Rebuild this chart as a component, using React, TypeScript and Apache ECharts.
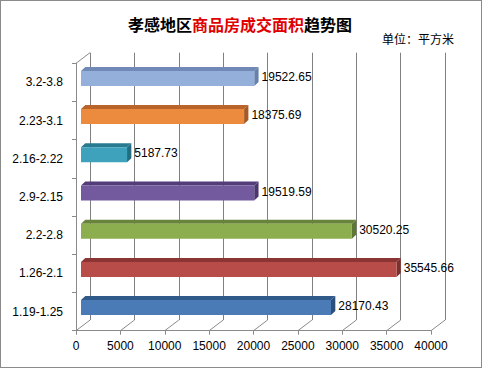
import React, { useEffect, useRef } from "react";
import * as echarts from "echarts";

const categories = ["1.19-1.25", "1.26-2.1", "2.2-2.8", "2.9-2.15", "2.16-2.22", "2.23-3.1", "3.2-3.8"];
const values = [28170.43, 35545.66, 30520.25, 19519.59, 5187.73, 18375.69, 19522.65];
const labels = ["28170.43", "35545.66", "30520.25", "19519.59", "5187.73", "18375.69", "19522.65"];
const xTicks = [0, 5000, 10000, 15000, 20000, 25000, 30000, 35000, 40000];
// front, top, side colours for each bar
const barColors = [
  ["#4a7bb7", "#2f5a8a", "#2b4f7a"],
  ["#b84c49", "#8a3533", "#7c2f2d"],
  ["#8cae4e", "#68843a", "#5e7834"],
  ["#735a9e", "#523d7a", "#4a376e"],
  ["#3fa2bc", "#277a8f", "#236d80"],
  ["#ec8a3e", "#b8642a", "#a55a26"],
  ["#93afda", "#7189b6", "#6680aa"],
];

const DX = 14, DY = -10.6; // wall depth
const BX = 5, BY = -4; // bar front offset
const BDX = 4.3, BDY = -4; // bar depth
const BH = 15; // bar height
const GRID = "#8a8a8a";
const WALL = "#808080";
const FONT = "'Liberation Sans', Arial, sans-serif";
const CJK = "'Noto Sans CJK SC', sans-serif";

export default function App() {
  const ref = useRef<HTMLDivElement>(null);
  useEffect(() => {
    if (!ref.current) return;
    const chart = echarts.init(ref.current, null, { renderer: "svg" });
    chart.setOption({
      animation: false,
      backgroundColor: "#ffffff",
      title: [
        {
          text: "{a|孝感地区}{b|商品房成交面积}{a|趋势图}",
          left: 128,
          top: 16,
          padding: 0,
          textStyle: {
            rich: {
              a: { fontSize: 16, fontWeight: "bold", color: "#000", fontFamily: CJK },
              b: { fontSize: 16, fontWeight: "bold", color: "#e00000", fontFamily: CJK },
            },
          },
        },
        {
          text: "单位：平方米",
          left: 382,
          top: 32,
          padding: 0,
          textStyle: { fontSize: 12, fontWeight: "normal", color: "#000", fontFamily: CJK },
        },
      ],
      grid: [
        { left: 76, top: 63.3, right: 52, bottom: 38.3 },
        { left: 76 + DX, top: 63.3 + DY, right: 52 - DX, bottom: 38.3 - DY },
      ],
      xAxis: [
        {
          type: "value",
          gridIndex: 0,
          min: 0,
          max: 40000,
          interval: 5000,
          axisLine: { show: true, lineStyle: { color: GRID, width: 1 } },
          axisTick: { show: true, length: 4, lineStyle: { color: GRID } },
          splitLine: { show: false },
          axisLabel: {
            color: "#000",
            fontSize: 12,
            fontFamily: FONT,
            margin: 9,
            formatter: (v: number) => String(v),
          },
        },
        {
          type: "value",
          gridIndex: 1,
          min: 0,
          max: 40000,
          interval: 5000,
          axisLine: { show: false },
          axisTick: { show: false },
          axisLabel: { show: false },
          splitLine: { show: true, lineStyle: { color: WALL, width: 1 } },
        },
      ],
      yAxis: [
        {
          type: "category",
          gridIndex: 0,
          data: categories,
          axisLine: { show: true, lineStyle: { color: GRID, width: 1 } },
          axisTick: { show: true, length: 4, lineStyle: { color: GRID } },
          splitLine: { show: false },
          axisLabel: { color: "#000", fontSize: 12, fontFamily: FONT, margin: 13 },
        },
        {
          type: "category",
          gridIndex: 1,
          data: categories,
          show: false,
        },
      ],
      series: [
        {
          type: "custom",
          z: 1,
          silent: true,
          xAxisIndex: 0,
          yAxisIndex: 0,
          data: xTicks.map((v) => [v, 0]),
          renderItem: (params: any, api: any) => {
            const cs = params.coordSys;
            const x = api.coord([api.value(0), 0])[0];
            const bottom = cs.y + cs.height;
            const top = cs.y;
            const children: any[] = [
              {
                type: "line",
                shape: { x1: x, y1: bottom, x2: x + DX, y2: bottom + DY },
                style: { stroke: GRID, lineWidth: 1 },
              },
            ];
            if (api.value(0) === 0) {
              children.push({
                type: "line",
                shape: { x1: x, y1: top, x2: x + DX, y2: top + DY },
                style: { stroke: GRID, lineWidth: 1 },
              });
            }
            return { type: "group", children };
          },
        },
        {
          type: "custom",
          z: 3,
          xAxisIndex: 0,
          yAxisIndex: 0,
          data: values.map((v, i) => [v, i]),
          renderItem: (params: any, api: any) => {
            const i = api.value(1);
            const v = api.value(0);
            const s = api.coord([0, i]);
            const e = api.coord([v, i]);
            const x0 = s[0] + BX;
            const x1 = e[0] + BX;
            const yc = s[1] + BY;
            const y0 = yc - BH / 2;
            const y1 = yc + BH / 2;
            const c = barColors[i];
            return {
              type: "group",
              children: [
                {
                  type: "polygon",
                  shape: { points: [[x0, y0], [x1, y0], [x1 + BDX, y0 + BDY], [x0 + BDX, y0 + BDY]] },
                  style: { fill: c[1] },
                },
                {
                  type: "polygon",
                  shape: { points: [[x1, y0], [x1, y1], [x1 + BDX, y1 + BDY], [x1 + BDX, y0 + BDY]] },
                  style: { fill: c[2] },
                },
                {
                  type: "rect",
                  shape: { x: x0, y: y0, width: x1 - x0, height: BH },
                  style: { fill: c[0] },
                },
                {
                  type: "text",
                  x: x1 + BDX + 3,
                  y: yc - 1.5,
                  style: {
                    text: labels[i],
                    fill: "#000",
                    fontSize: 12,
                    fontFamily: FONT,
                    verticalAlign: "middle",
                    align: "left",
                  },
                },
              ],
            };
          },
        },
      ],
    });
    return () => chart.dispose();
  }, []);
  return (
    <div style={{ position: "fixed", left: 0, top: 0, width: 483, height: 369 }}>
      <div ref={ref} style={{ position: "absolute", left: 0, top: 0, width: 483, height: 369 }} />
      <div
        style={{
          position: "absolute",
          left: 0,
          top: 0,
          width: 480,
          height: 366,
          border: "1px solid #8a8a8a",
          pointerEvents: "none",
        }}
      />
    </div>
  );
}
